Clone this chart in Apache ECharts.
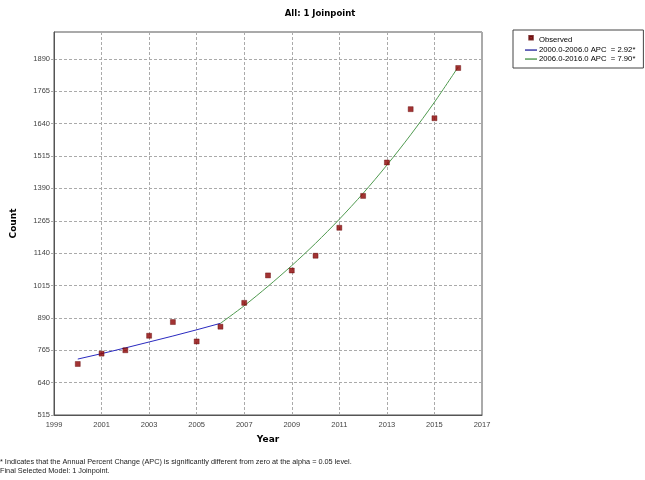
<!DOCTYPE html>
<html>
<head>
<meta charset="utf-8">
<script src="https://cdn.jsdelivr.net/npm/echarts@6/dist/echarts.min.js"></script>
<style>html,body{margin:0;padding:0;background:#fff;}#c{width:645px;height:480px;}</style>
</head>
<body>
<div id="c"></div>
<script>
var years = [2000,2001,2002,2003,2004,2005,2006,2007,2008,2009,2010,2011,2012,2013,2014,2015,2016];
var observed = [712,752,765,821,874,799,856,948,1054,1073,1130,1238,1361,1490,1696,1661,1855];
var seg1Years = [2000,2001,2002,2003,2004,2005,2006];
var seg1Fit = [731,752,774,797,820,844,869];
var seg2Years = [2006,2007,2008,2009,2010,2011,2012,2013,2014,2015,2016];
var seg2Fit = [869,937,1012,1092,1178,1271,1371,1480,1597,1723,1859];
var seriesNames = ['Observed','2000.0-2006.0 APC  = 2.92*','2006.0-2016.0 APC  = 7.90*'];
var footnotes = ['* Indicates that the Annual Percent Change (APC) is significantly different from zero at the alpha = 0.05 level.','Final Selected Model: 1 Joinpoint.'];

function pairs(xs, ys){ return xs.map(function(x,i){ return [x, ys[i]]; }); }

var chart = echarts.init(document.getElementById('c'), null, {renderer:'canvas'});
var font = 'Liberation Sans, Arial, sans-serif';
var boldFont = 'DejaVu Sans, Verdana, sans-serif';
var lineIcon = 'path://M0,0 M12,8 M0,3.4 h12 v1.3 h-12 z';
chart.setOption({
  animation: false,
  backgroundColor: '#fff',
  textStyle: {fontFamily: font},
  title: [
    {text: 'All: 1 Joinpoint', left: 315, textAlign: 'center', top: 4,
     textStyle: {fontSize: 8.5, fontWeight: 'bold', color: '#000', fontFamily: boldFont}},
    {text: footnotes.join('\n'), left: 0, top: 457, padding: 0,
     textStyle: {fontSize: 7.3, fontWeight: 'normal', color: '#222', lineHeight: 9, fontFamily: font}}
  ],
  legend: {
    orient: 'vertical', left: 513, top: 30,
    padding: [5, 8, 5, 11], itemGap: 1, itemWidth: 12, itemHeight: 8,
    borderColor: '#444', borderWidth: 1, backgroundColor: '#fff',
    textStyle: {fontSize: 7.7, color: '#000', fontFamily: font, padding: [0,0,0,-3]},
    data: [
      {name: seriesNames[0], icon: 'path://M0,0 M12,8 M4.3,0 h3.5 v3.5 h-3.5 z', itemStyle: {color: '#8b0000'}},
      {name: seriesNames[1], icon: lineIcon, itemStyle: {color: '#1f1f9a'}},
      {name: seriesNames[2], icon: lineIcon, itemStyle: {color: '#3f8f3f'}}
    ]
  },
  grid: {left: 54, right: 163, top: 32, bottom: 65, show: true, borderColor: '#555', borderWidth: 1},
  xAxis: {
    type: 'value', min: 1999, max: 2017, interval: 2,
    name: 'Year', nameLocation: 'middle', nameGap: 20,
    nameTextStyle: {fontSize: 9, fontWeight: 'bold', color: '#000', fontFamily: boldFont},
    axisLine: {lineStyle: {color: '#555'}},
    axisTick: {show: false},
    axisLabel: {fontSize: 7.5, color: '#444', margin: 6, fontFamily: font,
                formatter: function(v){ return String(v); }},
    splitLine: {show: true, lineStyle: {color: '#aaa', type: [3, 2], width: 1}}
  },
  yAxis: {
    type: 'value', min: 515, max: 1994, interval: 125,
    name: 'Count', nameLocation: 'middle', nameGap: 36,
    nameTextStyle: {fontSize: 9, fontWeight: 'bold', color: '#000', fontFamily: boldFont},
    axisLine: {show: true, lineStyle: {color: '#555'}},
    axisTick: {show: true, length: 3, lineStyle: {color: '#aaa', type: 'dashed'}},
    axisLabel: {fontSize: 7.5, color: '#444', margin: 4, fontFamily: font, showMaxLabel: false,
                formatter: function(v){ return String(v); }},
    splitLine: {show: true, lineStyle: {color: '#aaa', type: [3, 2], width: 1}}
  },
  series: [
    {name: seriesNames[0], type: 'scatter', symbol: 'rect', symbolSize: 5,
     itemStyle: {color: '#8b0000', borderColor: '#600000', borderWidth: 0.5},
     data: pairs(years, observed), z: 5},
    {name: seriesNames[1], type: 'line', symbol: 'none', showSymbol: false,
     lineStyle: {color: '#2a2ac0', width: 1}, itemStyle: {color: '#2a2ac0'},
     data: pairs(seg1Years, seg1Fit), z: 3},
    {name: seriesNames[2], type: 'line', symbol: 'none', showSymbol: false, smooth: 0.3,
     lineStyle: {color: '#4f9a4f', width: 1}, itemStyle: {color: '#4f9a4f'},
     data: pairs(seg2Years, seg2Fit), z: 3}
  ]
});
</script>
</body>
</html>
